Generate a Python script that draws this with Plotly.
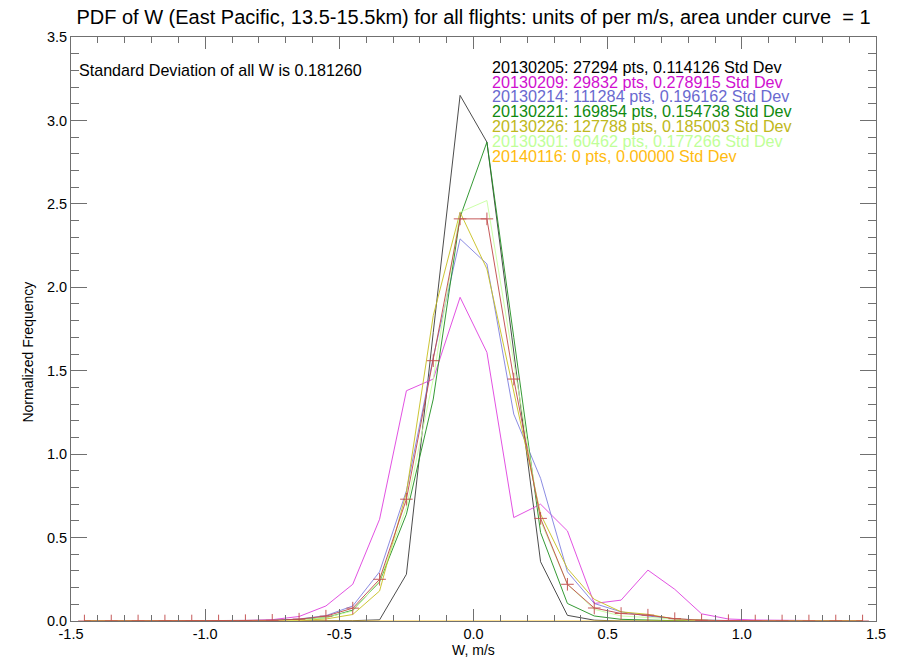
import plotly.graph_objects as go

# Bin centres of vertical velocity W (m/s)
w_bins = [-1.45, -1.35, -1.25, -1.15, -1.05, -0.95, -0.85, -0.75, -0.65, -0.55,
          -0.45, -0.35, -0.25, -0.15, -0.05, 0.05, 0.15, 0.25, 0.35, 0.45,
          0.55, 0.65, 0.75, 0.85, 0.95, 1.05, 1.15, 1.25, 1.35, 1.45]

# Normalised PDFs per flight
pdf_20130205 = [0, 0, 0, 0, 0, 0, 0, 0, 0, 0,
                0.002, 0.007, 0.28, 1.73, 3.15, 2.87, 1.62, 0.355, 0.034, 0.005,
                0, 0, 0, 0, 0, 0, 0, 0, 0, 0]
pdf_20130209 = [0, 0, 0, 0, 0, 0.002, 0.003, 0.008, 0.027, 0.09,
                0.22, 0.61, 1.38, 1.45, 1.94, 1.61, 0.62, 0.70, 0.54, 0.105,
                0.125, 0.305, 0.19, 0.043, 0.012, 0.006, 0.005, 0, 0, 0]
pdf_20130214 = [0, 0, 0, 0, 0, 0, 0.002, 0.004, 0.012, 0.032,
                0.09, 0.295, 0.78, 1.58, 2.29, 2.14, 1.24, 0.855, 0.295, 0.105,
                0.055, 0.03, 0.012, 0.005, 0.002, 0, 0, 0, 0, 0]
pdf_20130221 = [0, 0, 0, 0, 0, 0, 0, 0.003, 0.008, 0.02,
                0.065, 0.235, 0.64, 1.33, 2.42, 2.87, 1.70, 0.53, 0.105, 0.03,
                0.01, 0.004, 0.002, 0, 0, 0, 0, 0, 0, 0]
pdf_20130226 = [0, 0, 0, 0, 0, 0, 0, 0, 0.004, 0.012,
                0.039, 0.18, 0.77, 1.83, 2.45, 2.11, 1.37, 0.64, 0.315, 0.13,
                0.055, 0.04, 0.012, 0.004, 0, 0, 0, 0, 0, 0]
pdf_20130301 = [0, 0, 0, 0, 0, 0, 0, 0, 0.005, 0.02,
                0.06, 0.24, 0.68, 1.45, 2.45, 2.52, 1.55, 0.60, 0.22, 0.07,
                0.03, 0.02, 0.01, 0.003, 0, 0, 0, 0, 0, 0]
pdf_20140116 = [0] * 30

# PDF of all flights combined
pdf_all = [0, 0, 0, 0, 0, 0, 0.002, 0.004, 0.011, 0.029,
           0.077, 0.25, 0.73, 1.56, 2.41, 2.41, 1.45, 0.615, 0.22, 0.078,
           0.045, 0.035, 0.014, 0.004, 0.002, 0, 0, 0, 0, 0]

flight_dates = ["20130205", "20130209", "20130214", "20130221",
                "20130226", "20130301", "20140116"]
flight_pts = [27294, 29832, 111284, 169854, 127788, 60462, 0]
flight_std = ["0.114126", "0.278915", "0.196162", "0.154738",
              "0.185003", "0.177266", "0.00000"]
flight_pdfs = [pdf_20130205, pdf_20130209, pdf_20130214, pdf_20130221,
               pdf_20130226, pdf_20130301, pdf_20140116]
line_colors = ["#3a3a3a", "#e040e0", "#8080e0", "#209020",
               "#c8c020", "#c8ffa0", "#ffc020"]
text_colors = ["#000000", "#d010d0", "#6a6ad0", "#108a10",
               "#c0b820", "#c0ff98", "#ffbb10"]
all_std = "0.181260"

x_ticks = [-1.5, -1.0, -0.5, 0.0, 0.5, 1.0, 1.5]
x_ticktext = ["-1.5", "-1.0", "-0.5", "0.0", "0.5", "1.0", "1.5"]
y_ticks = [0.0, 0.5, 1.0, 1.5, 2.0, 2.5, 3.0, 3.5]
y_ticktext = ["0.0", "0.5", "1.0", "1.5", "2.0", "2.5", "3.0", "3.5"]

FONT = "Liberation Sans, Arial, Helvetica, sans-serif"
AXIS_GREY = "#707070"
W, H = 897, 661
M_L, M_R, M_T, M_B = 71, 11, 37, 40

fig = go.Figure()

for date, pdf, col in zip(flight_dates, flight_pdfs, line_colors):
    fig.add_trace(go.Scatter(
        x=w_bins, y=pdf, mode="lines", name=date,
        line=dict(color=col, width=1), opacity=0.9,
    ))

fig.add_trace(go.Scatter(
    x=w_bins, y=pdf_all, mode="lines+markers", name="all",
    line=dict(color="#c04848", width=1), opacity=0.9,
    marker=dict(symbol="cross-thin", size=9,
                line=dict(color="#c04848", width=1)),
))

# Per-flight summary lines, coloured like their curves
top_y = 3.322
step_y = 0.089
for i, (date, n, sd, tc) in enumerate(zip(flight_dates, flight_pts,
                                          flight_std, text_colors)):
    fig.add_annotation(
        x=0.063, y=top_y - i * step_y, xref="x", yref="y",
        text=f"{date}: {n} pts, {sd} Std Dev",
        showarrow=False, xanchor="left", yanchor="middle",
        font=dict(family=FONT, size=16.2, color=tc),
    )

fig.add_annotation(
    x=-1.478, y=3.304, xref="x", yref="y",
    text=f"Standard Deviation of all W is {all_std}",
    showarrow=False, xanchor="left", yanchor="middle",
    font=dict(family=FONT, size=16.1, color="#000000"),
)

# Axis titles placed as annotations (paper coordinates from pixel positions)
plot_h = H - M_T - M_B
fig.add_annotation(
    x=-(M_L - 27) / (W - M_L - M_R), y=(H - M_B - 352) / plot_h,
    xref="paper", yref="paper", text="Normalized Frequency", textangle=-90,
    showarrow=False, xanchor="center", yanchor="middle",
    font=dict(family=FONT, size=14, color="#000000"),
)
fig.add_annotation(
    x=0.5, y=-(650 - (H - M_B)) / plot_h,
    xref="paper", yref="paper", text="W, m/s",
    showarrow=False, xanchor="center", yanchor="middle",
    font=dict(family=FONT, size=14, color="#000000"),
)

axis_common = dict(
    showline=True, linecolor=AXIS_GREY, linewidth=1, mirror="ticks",
    ticks="inside", tickcolor=AXIS_GREY, tickwidth=1,
    showgrid=False, zeroline=False,
    tickfont=dict(family=FONT, size=14.5, color="#000000"),
)

fig.update_layout(
    width=W, height=H,
    margin=dict(l=M_L, r=M_R, t=M_T, b=M_B),
    paper_bgcolor="white", plot_bgcolor="white",
    showlegend=False,
    title=dict(
        text="PDF of W (East Pacific, 13.5-15.5km) for all flights: units of per m/s, area under curve  = 1",
        xref="paper", x=0.5, xanchor="center",
        yref="container", y=1 - 17 / H, yanchor="middle",
        font=dict(family=FONT, size=20, color="#000000"),
    ),
    xaxis=dict(
        range=[-1.5, 1.5], tickmode="array", tickvals=x_ticks, ticktext=x_ticktext,
        ticklen=12,
        minor=dict(tickmode="linear", tick0=0, dtick=0.1, ticks="inside",
                   ticklen=6, tickcolor=AXIS_GREY, tickwidth=1),
        **axis_common,
    ),
    yaxis=dict(
        range=[0, 3.5], tickmode="array", tickvals=y_ticks, ticktext=y_ticktext,
        ticklen=16,
        minor=dict(tickmode="linear", tick0=0, dtick=0.1, ticks="inside",
                   ticklen=8, tickcolor=AXIS_GREY, tickwidth=1),
        **axis_common,
    ),
)

fig.write_html("out.html")
